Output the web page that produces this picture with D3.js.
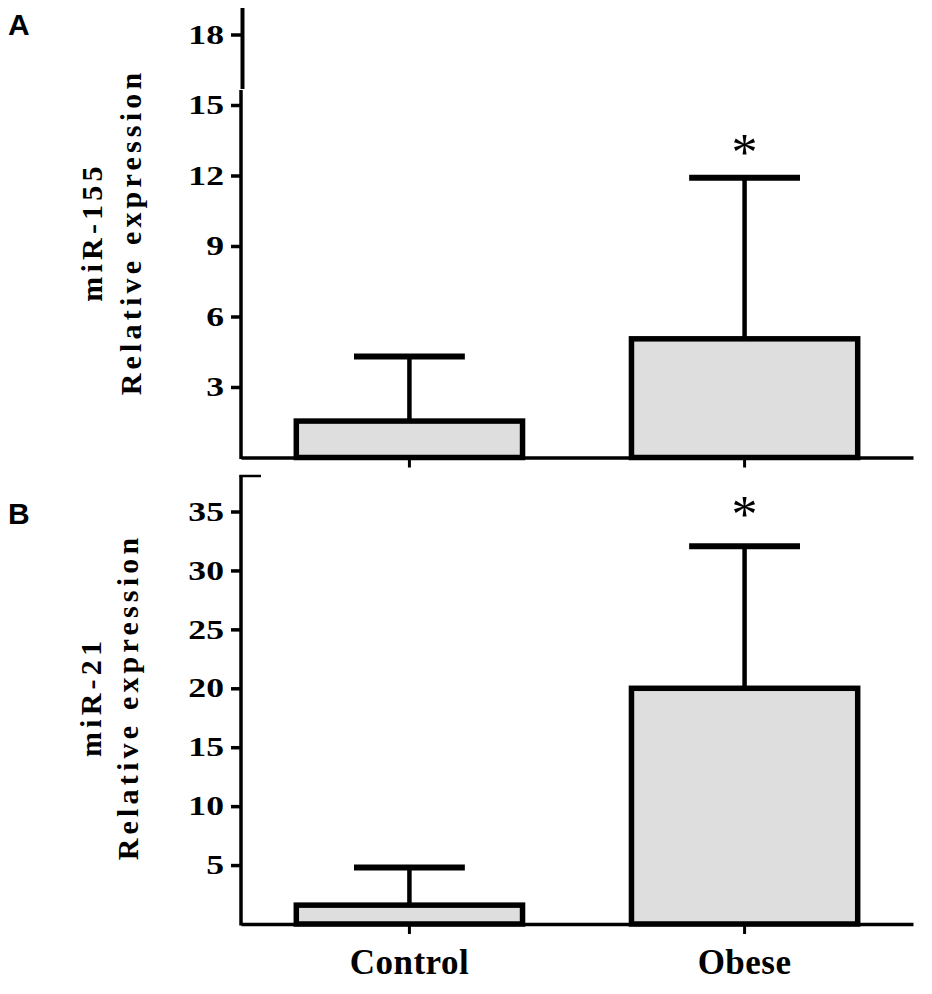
<!DOCTYPE html>
<html>
<head>
<meta charset="utf-8">
<script src="https://cdn.jsdelivr.net/npm/d3@7"></script>
<style>
  body { margin: 0; background: #fff; }
  .tick text { font-family: 'Liberation Serif', 'Times New Roman', serif; font-weight: bold; }
  .ylab { font-family: 'Liberation Serif', 'Times New Roman', serif; font-weight: bold; font-size: 30px; letter-spacing: 4.2px; }
  .panel { font-family: 'Liberation Sans', Arial, sans-serif; font-weight: bold; font-size: 30px; }
  .star { font-family: 'Liberation Serif', 'Times New Roman', serif; font-size: 52px; }
</style>
</head>
<body>
<script>
// data (mean and SD)
var categories = ['Control', 'Obese'];
var mir155Mean = [1.55, 5.05];
var mir155Sd = [2.75, 6.85];
var mir155Ticks = [3, 6, 9, 12, 15, 18];
var mir21Mean = [1.6, 20.0];
var mir21Sd = [3.2, 12.05];
var mir21Ticks = [5, 10, 15, 20, 25, 30, 35];
var significant = [false, true];

var w = 932,
    h = 994;
var barFill = '#dedede';

var background = function(w, h) {
    return d3.select('body')
        .append('svg')
        .attr('width', w)
        .attr('height', h)
}

var x = d3.scaleBand()
    .domain(categories)
    .range([241, 913])
    .paddingInner(0.325)
    .paddingOuter(0.165);

// one bar panel
var panel = function(bg, o) {
    var y = d3.scaleLinear()
        .domain([0, o.max])
        .range([o.bottom, o.top]);
    var g = bg.append('g');
    var rows = categories.map(function(c, i) {
        return { cat: c, mean: o.mean[i], sd: o.sd[i], sig: significant[i] };
    });

    // error bars (upper only)
    g.selectAll('.err')
        .data(rows)
        .enter()
        .append('line')
        .attr('x1', function(d) { return x(d.cat) + x.bandwidth() / 2; })
        .attr('x2', function(d) { return x(d.cat) + x.bandwidth() / 2; })
        .attr('y1', function(d) { return y(d.mean); })
        .attr('y2', function(d) { return y(d.mean + d.sd); })
        .attr('stroke', '#000')
        .attr('stroke-width', 4.5);
    g.selectAll('.cap')
        .data(rows)
        .enter()
        .append('line')
        .attr('x1', function(d) { return x(d.cat) + x.bandwidth() * 0.255; })
        .attr('x2', function(d) { return x(d.cat) + x.bandwidth() * 0.745; })
        .attr('y1', function(d) { return y(d.mean + d.sd); })
        .attr('y2', function(d) { return y(d.mean + d.sd); })
        .attr('stroke', '#000')
        .attr('stroke-width', 6);

    g.selectAll('.bar')
        .data(rows)
        .enter()
        .append('rect')
        .attr('x', function(d) { return x(d.cat); })
        .attr('width', x.bandwidth())
        .attr('y', function(d) { return y(d.mean); })
        .attr('height', function(d) { return y(0) - y(d.mean); })
        .attr('fill', barFill)
        .attr('stroke', '#000')
        .attr('stroke-width', 5.5);

    g.selectAll('.star')
        .data(rows.filter(function(d) { return d.sig; }))
        .enter()
        .append('text')
        .attr('class', 'star')
        .attr('text-anchor', 'middle')
        .attr('x', function(d) { return x(d.cat) + x.bandwidth() / 2; })
        .attr('y', function(d) { return y(d.mean + d.sd) - o.starGap; })
        .text('*');

    // y axis
    var yAxis = g.append('g')
        .attr('transform', 'translate(241,0)')
        .call(d3.axisLeft(y).tickValues(o.ticks).tickSize(10).tickSizeOuter(0));
    yAxis.select('.domain').remove();
    yAxis.selectAll('.tick line')
        .attr('stroke-width', 3.5);
    yAxis.selectAll('.tick text')
        .attr('x', 0)
        .attr('font-size', 27)
        .attr('fill', '#000')
        .attr('transform', 'translate(-17,0) scale(1.32,1)');
    g.append('line')
        .attr('x1', 241)
        .attr('x2', 241)
        .attr('y1', y(0) + 1.5)
        .attr('y2', o.axisTop)
        .attr('stroke', '#000')
        .attr('stroke-width', 3.5);

    // x axis
    var xAxis = g.append('g')
        .attr('transform', 'translate(0,' + y(0) + ')')
        .call(d3.axisBottom(x).tickSize(10).tickSizeOuter(0));
    xAxis.select('.domain')
        .attr('stroke-width', 3.5);
    xAxis.selectAll('.tick line')
        .attr('stroke-width', 3);
    if (o.showX) {
        xAxis.selectAll('.tick text')
            .attr('y', 25)
            .attr('font-size', 35)
            .attr('letter-spacing', 0.5)
            .attr('fill', '#000');
    } else {
        xAxis.selectAll('.tick text').remove();
    }

    // axis title, two lines
    var lab = g.append('g')
        .attr('transform', 'translate(' + o.labX + ',' + o.labY + ') rotate(-90)');
    lab.append('text')
        .attr('class', 'ylab')
        .attr('text-anchor', 'middle')
        .attr('y', o.labGap[0])
        .text(o.name);
    lab.append('text')
        .attr('class', 'ylab')
        .attr('text-anchor', 'middle')
        .attr('y', o.labGap[1])
        .text('Relative expression');

    bg.append('text')
        .attr('class', 'panel')
        .attr('x', 8)
        .attr('y', o.letterY)
        .text(o.letter);
    return { y: y, g: g };
}

var bg = background(w, h);

var a = panel(bg, {
    mean: mir155Mean, sd: mir155Sd, ticks: mir155Ticks, max: 18,
    top: 34.5, bottom: 457.5, axisTop: 90, starGap: 8,
    name: 'miR-155', labX: 0, labY: 232, labGap: [102, 141],
    letter: 'A', letterY: 35, showX: false
});
// upper piece of the broken axis sits a touch to the right
bg.append('line')
    .attr('x1', 242.5)
    .attr('x2', 242.5)
    .attr('y1', 8)
    .attr('y2', 89)
    .attr('stroke', '#000')
    .attr('stroke-width', 4);

var b = panel(bg, {
    mean: mir21Mean, sd: mir21Sd, ticks: mir21Ticks, max: 35,
    top: 511.5, bottom: 924, axisTop: 475, starGap: 14,
    name: 'miR-21', labX: 0, labY: 697, labGap: [101, 138],
    letter: 'B', letterY: 524, showX: true
});
bg.append('line')
    .attr('x1', 239.5)
    .attr('x2', 261)
    .attr('y1', 476)
    .attr('y2', 476)
    .attr('stroke', '#000')
    .attr('stroke-width', 2.5);
</script>
</body>
</html>
